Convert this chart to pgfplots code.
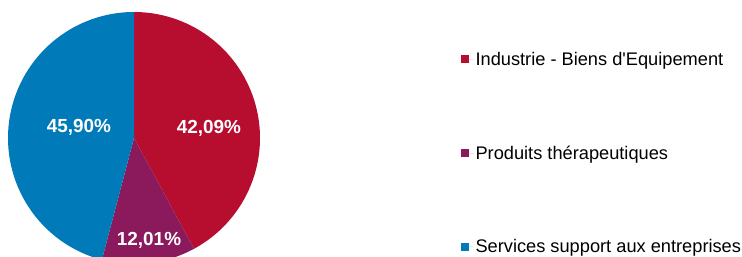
\documentclass[border=0pt]{standalone}
\usepackage{pgfplots}
\pgfplotsset{compat=1.18}
\usepackage{fontspec}
\setmainfont{Liberation Sans}
\definecolor{cRed}{HTML}{B70E30}
\definecolor{cPur}{HTML}{8A1A5C}
\definecolor{cBlu}{HTML}{007AB8}
% shares in percent
\def\vA{42.09}\def\vB{12.01}\def\vC{45.90}
\pgfmathsetmacro{\aZ}{90}
\pgfmathsetmacro{\aA}{90-3.6*\vA}
\pgfmathsetmacro{\aB}{\aA-3.6*\vB}
\pgfmathsetmacro{\aC}{\aB-3.6*\vC}
\begin{document}
\begin{tikzpicture}
\useasboundingbox (0,0) rectangle (742bp,257bp);
\clip (0,0) rectangle (742bp,257bp);
\begin{axis}[
  at={(134bp,119bp)}, anchor=center,
  scale only axis, width=252bp, height=252bp,
  xmin=-1, xmax=1, ymin=-1, ymax=1,
  hide axis, clip=false,
  legend cell align=left,
  legend image code/.code={\fill[#1] (0bp,-4bp) rectangle (8bp,4bp);\path (0bp,0bp) -- (13bp,0bp);},
  legend style={draw=none, fill=none, at={(1.795,0.85)}, anchor=north west,
    font=\fontsize{18.3}{21}\selectfont, row sep=75bp, inner sep=0pt,
    nodes={inner sep=2bp}},
]
\addplot[fill=cRed, draw=none, domain=\aA:\aZ, samples=90] ({cos(x)},{sin(x)}) -- (0,0) -- cycle;
\addlegendentry{Industrie -  Biens d\textquotesingle Equipement}
\addplot[fill=cPur, draw=none, domain=\aB:\aA, samples=40] ({cos(x)},{sin(x)}) -- (0,0) -- cycle;
\addlegendentry{Produits thérapeutiques}
\addplot[fill=cBlu, draw=none, domain=\aC:\aB, samples=90] ({cos(x)},{sin(x)}) -- (0,0) -- cycle;
\addlegendentry{Services support aux entreprises}
\node[text=white, font=\bfseries\fontsize{19}{21}\selectfont] at (axis cs:0.595,0.075) {42,09\%};
\node[text=white, font=\bfseries\fontsize{19}{21}\selectfont] at (axis cs:-0.437,0.083) {45,90\%};
\node[text=white, font=\bfseries\fontsize{19}{21}\selectfont] at (axis cs:0.119,-0.815) {12,01\%};
\end{axis}
\end{tikzpicture}
\end{document}
